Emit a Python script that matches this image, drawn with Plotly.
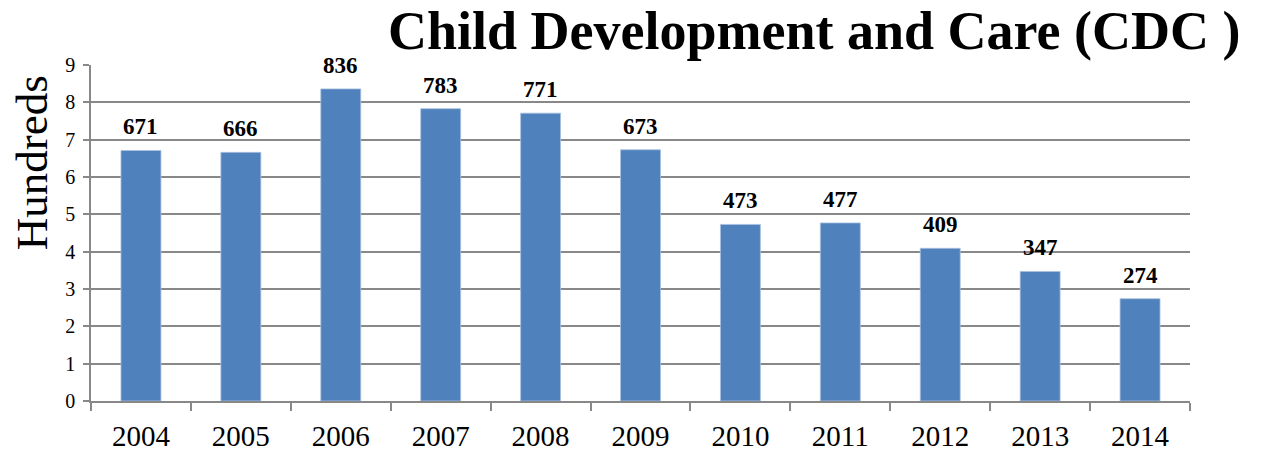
import plotly.graph_objects as go

years = ["2004", "2005", "2006", "2007", "2008", "2009", "2010", "2011", "2012", "2013", "2014"]
values = [671, 666, 836, 783, 771, 673, 473, 477, 409, 347, 274]
hundreds = [v / 100 for v in values]
labels = [str(v) for v in values]

serif = "Liberation Serif, Times New Roman, serif"

fig = go.Figure()
fig.add_trace(go.Bar(
    x=years, y=hundreds,
    marker=dict(color="#4F81BD", line=dict(color="#A9C1E0", width=0.8)),
    width=0.4,
))
for i, (h, lab) in enumerate(zip(hundreds, labels)):
    fig.add_annotation(x=i, y=h, xref="x", yref="y", text="<b>" + lab + "</b>", showarrow=False,
                       yanchor="bottom", yshift=9,
                       font=dict(family=serif, size=23, color="black"))

fig.add_annotation(text="Hundreds", xref="paper", yref="paper",
                   x=-0.053, y=0.71, xanchor="center", yanchor="middle",
                   textangle=-90, showarrow=False,
                   font=dict(family=serif, size=45, color="black"))

fig.update_layout(
    width=1268, height=452,
    margin=dict(l=91, r=78, t=65, b=51, autoexpand=False),
    paper_bgcolor="white", plot_bgcolor="white",
    showlegend=False,
    title=dict(text="<b>Child Development and Care (CDC )</b>",
               font=dict(family=serif, size=54, color="black"),
               x=0.306, xanchor="left", y=0.975, yanchor="top"),
    xaxis=dict(
        type="category", range=[-0.5, len(years) - 0.5],
        automargin=False,
        showline=True, linecolor="#888888", linewidth=1.5,
        ticks="outside", tickson="boundaries", ticklen=8, tickcolor="#888888", tickwidth=1.5,
        tickfont=dict(family=serif, size=29, color="black"),
        ticklabelstandoff=8,
        tickangle=0,
        showgrid=False,
    ),
    yaxis=dict(
        range=[0, 9], dtick=1,
        automargin=False,
        showline=True, linecolor="#888888", linewidth=1.5,
        ticks="outside", ticklen=6, tickcolor="#888888", tickwidth=1.5,
        showgrid=True, gridcolor="#888888", gridwidth=1.5,
        tickfont=dict(family=serif, size=20, color="black"),
        ticklabelstandoff=4,
        zeroline=False,
    ),
)

fig.write_html("out.html", config={"displayModeBar": False},
               post_script="document.body.style.margin='0';")
